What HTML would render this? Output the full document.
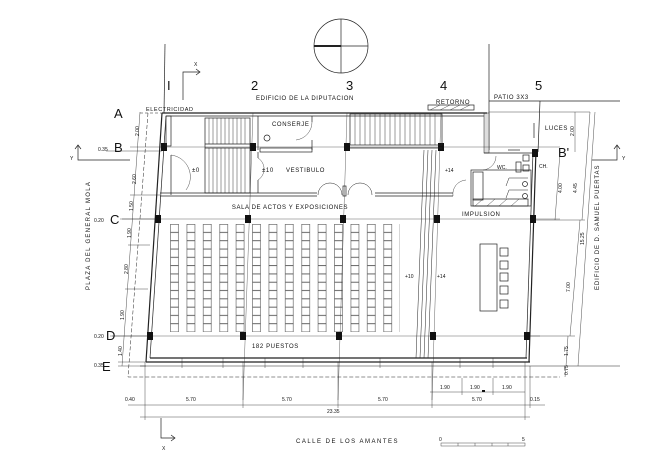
<!DOCTYPE html>
<html><head><meta charset="utf-8"><style>
html,body{margin:0;padding:0;background:#fff;}
svg{display:block;}
text{font-family:"Liberation Sans",sans-serif;fill:#111;}
.s{font-size:6px;letter-spacing:0.6px;}
.d{font-size:5px;}
.big{font-size:13px;}
</style></head><body>
<svg width="670" height="473" viewBox="0 0 670 473" xmlns="http://www.w3.org/2000/svg" stroke="#222" fill="none" stroke-width="0.7">
<circle cx="341" cy="46" r="27"/>
<line x1="314" y1="46" x2="368" y2="46"/>
<line x1="341" y1="19" x2="341" y2="73"/>
<line x1="314" y1="46" x2="341" y2="46" stroke-width="2"/>
<line x1="165" y1="44" x2="164" y2="113"/>
<line x1="489" y1="44" x2="489" y2="150"/>
<polyline points="183,100 183,72 200,72"/>
<polyline points="196,69 200,72 196,75"/>
<text x="194" y="66" class="d" stroke="none">X</text>
<g stroke="none" class="big">
<text x="167" y="90">I</text><text x="251" y="90">2</text><text x="346" y="90">3</text><text x="440" y="90">4</text><text x="535" y="90">5</text>
<text x="114" y="118">A</text><text x="114" y="152">B</text><text x="110" y="224">C</text><text x="106" y="340">D</text><text x="102" y="371">E</text>
<text x="558" y="157">B'</text>
</g>
<text x="256" y="100" class="s" stroke="none">EDIFICIO DE LA DIPUTACION</text>
<text x="494" y="99" class="s" stroke="none">PATIO 3X3</text>
<text x="146" y="111" class="s" stroke="none" style="font-size:5.5px">ELECTRICIDAD</text>
<line x1="489" y1="101" x2="620" y2="101"/>
<line x1="540" y1="101" x2="538" y2="152"/>
<line x1="489" y1="112" x2="590" y2="112" stroke-width="0.4"/>
<rect x="484" y="113" width="5" height="40" fill="#ddd" stroke-width="0.5"/>
<line x1="484" y1="153" x2="536" y2="153"/>
<line x1="534" y1="123" x2="534" y2="138"/>
<text x="545" y="130" class="s" stroke="none">LUCES</text>
<rect x="428" y="105" width="46" height="5"/>
<text x="436" y="104" class="s" stroke="none">RETORNO</text>
<path d="M430 110 L440 105 M440 110 L450 105 M450 110 L460 105 M460 110 L470 105" stroke-width="0.4"/>
<line x1="162" y1="113" x2="487" y2="113" stroke-width="1.2"/>
<line x1="166" y1="116" x2="484" y2="116"/>
<line x1="162" y1="113" x2="146" y2="362" stroke-width="1.2"/>
<line x1="166" y1="116" x2="150" y2="358"/>
<line x1="146" y1="362" x2="530" y2="362" stroke-width="1.2"/>
<line x1="150" y1="358" x2="527" y2="358" stroke-width="1.2"/>
<line x1="536" y1="150" x2="529" y2="362" stroke-width="1.2"/>
<line x1="533" y1="152" x2="526" y2="358"/>
<line x1="140" y1="366" x2="620" y2="366" stroke-width="0.5"/>
<path d="M148 113 L128 377 L560 377" stroke-dasharray="4,2" stroke-width="0.5"/>
<line x1="140" y1="113" x2="162" y2="113" stroke-dasharray="3,2" stroke-width="0.5"/>
<g stroke-width="0.35">
<line x1="130" y1="147" x2="560" y2="147"/>
<line x1="120" y1="219" x2="560" y2="219"/>
<line x1="110" y1="336" x2="540" y2="336"/>
<line x1="253" y1="113" x2="243" y2="400"/>
<line x1="347" y1="113" x2="338" y2="400"/>
<line x1="441" y1="113" x2="432" y2="400"/>
</g>
<g fill="#111" stroke="none">
<rect x="161" y="143" width="6" height="8"/><rect x="250" y="143" width="6" height="8"/><rect x="344" y="143" width="6" height="8"/><rect x="438" y="143" width="6" height="8"/><rect x="532" y="149" width="6" height="8"/>
<rect x="155" y="215" width="6" height="8"/><rect x="245" y="215" width="6" height="8"/><rect x="340" y="215" width="6" height="8"/><rect x="434" y="215" width="6" height="8"/><rect x="530" y="215" width="6" height="8"/>
<rect x="147" y="332" width="6" height="8"/><rect x="240" y="332" width="6" height="8"/><rect x="336" y="332" width="6" height="8"/><rect x="430" y="332" width="6" height="8"/><rect x="524" y="332" width="6" height="8"/>
</g>
<rect x="166" y="116" width="5" height="30"/>
<rect x="205" y="118" width="45" height="75"/>
<line x1="205" y1="144" x2="250" y2="144"/><line x1="205" y1="148" x2="250" y2="148"/>
<g stroke-width="0.45">
<path d="M209 118V144M213 118V144M217 118V144M221 118V144M225 118V144M229 118V144M233 118V144M237 118V144M241 118V144M245 118V144"/>
<path d="M209 148V193M213 148V193M217 148V193M221 148V193M225 148V193M229 148V193M233 148V193M237 148V193M241 148V193M245 148V193"/>
</g>
<line x1="258" y1="116" x2="258" y2="150"/>
<rect x="260" y="148" width="52" height="4"/>
<line x1="312" y1="116" x2="312" y2="122"/><line x1="312" y1="140" x2="312" y2="150"/>
<path d="M312 122 A18 18 0 0 1 296 140" stroke-width="0.4"/>
<circle cx="267" cy="138" r="3"/>
<text x="272" y="126" class="s" stroke="none">CONSERJE</text>
<line x1="171" y1="155" x2="171" y2="195"/>
<path d="M171 155 A22 22 0 0 1 186 190" stroke-width="0.4"/>
<text x="192" y="172" class="s" stroke="none">±0</text>
<line x1="258" y1="152" x2="258" y2="158"/><path d="M258 158 A13 13 0 0 1 258 180" stroke-width="0.4"/><line x1="258" y1="180" x2="258" y2="193"/>
<text x="262" y="172" class="s" stroke="none">±10</text>
<text x="286" y="172" class="s" stroke="none">VESTIBULO</text>
<line x1="160" y1="193" x2="317" y2="193"/><line x1="160" y1="196" x2="317" y2="196"/>
<path d="M318 195 A12 12 0 0 1 342 195 M348 195 A12 12 0 0 1 372 195" stroke-width="0.5"/>
<rect x="343" y="186" width="3" height="10"/>
<line x1="375" y1="193" x2="453" y2="193"/><line x1="375" y1="196" x2="453" y2="196"/>
<path d="M453 196 A14 14 0 0 1 466 180" stroke-width="0.4"/>
<text x="290" y="209" class="s" stroke="none" text-anchor="middle">SALA DE ACTOS Y EXPOSICIONES</text>
<rect x="350" y="114" width="92" height="31"/><line x1="350" y1="148" x2="442" y2="148"/>
<g stroke-width="0.45">
<path d="M355 114V145M360 114V145M365 114V145M370 114V145M375 114V145M380 114V145M385 114V145M390 114V145M395 114V145M400 114V145M405 114V145M410 114V145M415 114V145M420 114V145M425 114V145M430 114V145M435 114V145"/>
</g>
<g stroke-width="0.5">
<line x1="424" y1="150" x2="416" y2="358"/><line x1="428" y1="150" x2="420" y2="358"/><line x1="432" y1="150" x2="424" y2="358"/><line x1="436" y1="150" x2="428" y2="358"/>
</g>
<text x="445" y="172" class="d" stroke="none">+14</text>
<text x="405" y="278" class="d" stroke="none">+10</text>
<text x="437" y="278" class="d" stroke="none">+14</text>
<rect x="471" y="170" width="60" height="36"/>
<rect x="473" y="172" width="10" height="28"/>
<rect x="473" y="199" width="55" height="7"/>
<path d="M475 206L483 199M487 206L495 199M499 206L507 199M511 206L519 199" stroke-width="0.4"/>
<path d="M483 170 A14 14 0 0 0 496 156" stroke-width="0.4"/>
<line x1="508" y1="150" x2="520" y2="150"/>
<rect x="516" y="162" width="5" height="10"/>
<path d="M509 178H528M509 190H528M509 178L506 186M509 190L506 198" stroke-width="0.5"/>
<circle cx="525" cy="184" r="2.5"/><circle cx="525" cy="196" r="2.5"/>
<rect x="523" y="155" width="6" height="6"/><rect x="523" y="165" width="6" height="6"/>
<text x="497" y="169" class="d" stroke="none">WC.</text>
<text x="539" y="168" class="d" stroke="none">CH.</text>
<text x="462" y="216" class="s" stroke="none">IMPULSION</text>
<pattern id="seat" width="16.4" height="8.3" patternUnits="userSpaceOnUse" x="170" y="224"><rect x="0.5" y="0.3" width="8" height="8" fill="none" stroke="#333" stroke-width="0.5"/></pattern>
<rect x="170" y="224" width="230" height="108" fill="url(#seat)" stroke="none"/>
<rect x="480" y="244" width="17" height="67"/>
<rect x="500" y="248" width="8" height="8"/><rect x="500" y="261" width="8" height="8"/><rect x="500" y="273" width="8" height="8"/><rect x="500" y="286" width="8" height="8"/><rect x="500" y="300" width="8" height="8"/>
<text x="252" y="348" class="s" stroke="none">182 PUESTOS</text>
<path d="M182 358V368M223 358V368M265 358V368M303 358V368M380 358V368M460 358V368M493 358V368" stroke-width="0.4"/>
<line x1="140" y1="112" x2="122" y2="366" stroke-width="0.4"/>
<g stroke-width="0.4"><path d="M106 151H162M122 219H155M112 336H148M118 362H146M118 366H146M130 195H160M128 245H150M125 289H148"/></g>
<g class="d" stroke="none">
<text transform="translate(139,136) rotate(-90)">2.00</text>
<text x="98" y="151">0.35</text>
<text transform="translate(136,184) rotate(-90)">2.60</text>
<text transform="translate(133,211) rotate(-90)">1.50</text>
<text x="94" y="222">0.20</text>
<text transform="translate(131,238) rotate(-90)">1.90</text>
<text transform="translate(128,274) rotate(-90)">2.80</text>
<text transform="translate(124,320) rotate(-90)">1.90</text>
<text x="94" y="338">0.20</text>
<text transform="translate(122,356) rotate(-90)">1.40</text>
<text x="94" y="367">0.35</text>
</g>
<text transform="translate(90,290) rotate(-90)" class="s" stroke="none" style="letter-spacing:1.3px">PLAZA DEL GENERAL MOLA</text>
<polyline points="78,145 78,160 130,160"/><polyline points="75,149 78,145 81,149"/>
<text x="70" y="160" class="d" stroke="none">Y</text>
<g stroke-width="0.4">
<line x1="575" y1="112" x2="575" y2="152"/>
<line x1="560" y1="152" x2="555" y2="220"/>
<line x1="590" y1="112" x2="582" y2="220"/>
<line x1="580" y1="220" x2="570" y2="336"/>
<line x1="595" y1="112" x2="578" y2="366"/>
<line x1="568" y1="336" x2="566" y2="366"/>
<line x1="566" y1="366" x2="565" y2="377"/>
<path d="M535 220H585M530 336H575"/>
</g>
<g class="d" stroke="none">
<text transform="translate(574,136) rotate(-90)">2.00</text>
<text transform="translate(562,193) rotate(-90)">4.00</text>
<text transform="translate(577,193) rotate(-90)">4.45</text>
<text transform="translate(584,245) rotate(-90)">15.25</text>
<text transform="translate(570,292) rotate(-90)">7.00</text>
<text transform="translate(568,356) rotate(-90)">1.75</text>
<text transform="translate(568,375) rotate(-90)">0.75</text>
</g>
<text transform="translate(599,290) rotate(-90)" class="s" stroke="none" style="letter-spacing:0.9px">EDIFICIO DE D. SAMUEL PUERTAS</text>
<polyline points="617,145 617,160 592,160"/><polyline points="614,149 617,145 620,149"/>
<text x="622" y="160" class="d" stroke="none">Y</text>
<g stroke-width="0.4">
<line x1="430" y1="392" x2="525" y2="392"/>
<line x1="128" y1="405" x2="545" y2="405"/>
<line x1="140" y1="417" x2="530" y2="417"/>
<path d="M145 362V420M243 362V408M338 362V408M432 362V408M462 378V395M493 378V395M525 362V420M530 366V408"/>
</g>
<g class="d" stroke="none">
<text x="440" y="389">1.90</text><text x="470" y="389">1.90</text><text x="502" y="389">1.90</text>
<text x="125" y="401">0.40</text><text x="186" y="401">5.70</text><text x="282" y="401">5.70</text><text x="378" y="401">5.70</text><text x="472" y="401">5.70</text><text x="530" y="401">0.15</text>
<text x="327" y="413">23.35</text>
</g>
<rect x="482" y="390" width="3" height="2" fill="#111" stroke="none"/>
<polyline points="161,418 161,438 175,438"/><polyline points="171,435 175,438 171,441"/>
<text x="162" y="450" class="d" stroke="none">X</text>
<text x="296" y="443" class="s" stroke="none" style="letter-spacing:1.5px">CALLE DE LOS AMANTES</text>
<rect x="441" y="443" width="84" height="3" stroke-width="0.4"/>
<path d="M458 443V446M475 443V446M492 443V446M508 443V446" stroke-width="0.4"/>
<text x="439" y="441" class="d" stroke="none">0</text><text x="522" y="441" class="d" stroke="none">5</text>
</svg>
</body></html>
